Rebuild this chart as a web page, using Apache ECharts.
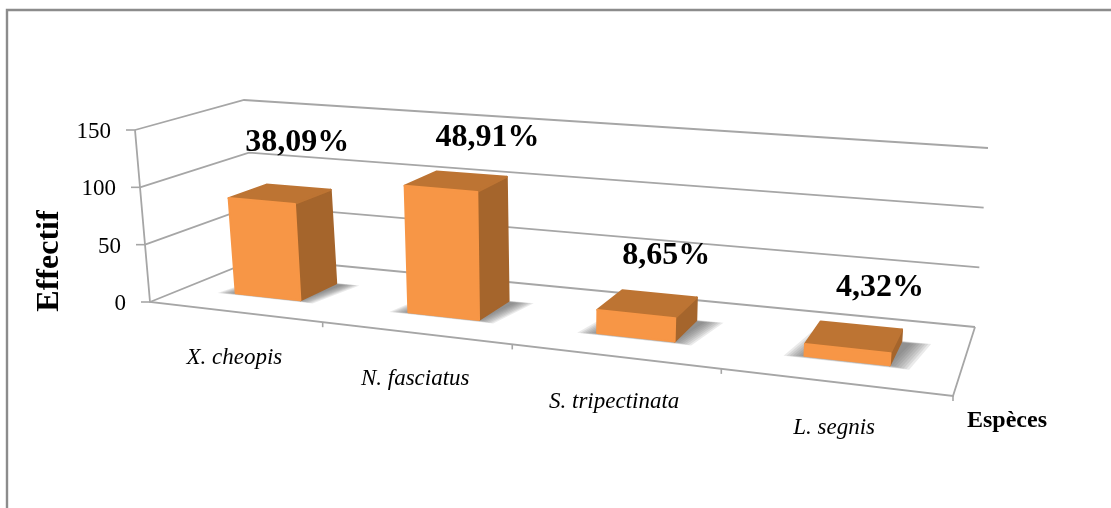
<!DOCTYPE html>
<html><head><meta charset="utf-8">
<style>html,body{margin:0;padding:0;background:#fff}#c{width:1111px;height:508px;filter:blur(.5px)}</style>
<script src="https://cdn.jsdelivr.net/npm/echarts@6/dist/echarts.min.js"></script>
</head><body><div id="c"></div>
<script>
const categories = ['X. cheopis','N. fasciatus','S. tripectinata','L. segnis'];
const counts = [88,113,20,10];
const percentLabels = ['38,09%','48,91%','8,65%','4,32%'];
const yTicks = [0,50,100,150];
const yAxisTitle = 'Effectif';
const xAxisTitle = 'Espèces';

// Layout of the perspective box (screen corners of the 3D plot cube)
const floorCorners = [[150,302],[953,396],[975,327],[259,258]];
const topCorners   = [[135,130],[967,200],[988,148],[244,100]];
const labelNudge = [[-1,-44],[16,-36],[7,-38],[19,-38]];
const barWidthFrac = 0.385, depth0 = 0.30, depth1 = 0.66, uWarp = 1.0725, barRise = 0.955;
const FONT = '"Liberation Serif","Times New Roman",serif';

function homography(q){ // unit square -> quad
  const [x0,y0]=q[0],[x1,y1]=q[1],[x2,y2]=q[2],[x3,y3]=q[3];
  const dx1=x1-x2,dx2=x3-x2,sx=x0-x1+x2-x3,dy1=y1-y2,dy2=y3-y2,sy=y0-y1+y2-y3;
  const den=dx1*dy2-dx2*dy1;
  const g=(sx*dy2-dx2*sy)/den,h=(dx1*sy-sx*dy1)/den;
  const a=x1-x0+g*x1,b=x3-x0+h*x3,d=y1-y0+g*y1,e=y3-y0+h*y3;
  return (u,v)=>{const w=g*u+h*v+1;return [(a*u+b*v+x0)/w,(d*u+e*v+y0)/w];};
}
const hFloor=homography(floorCorners);
const rise=floorCorners.map((f,i)=>[topCorners[i][0]-f[0],topCorners[i][1]-f[1]]);
function P(u0,d,t){
  const u=uWarp*u0/(1+(uWarp-1)*u0);
  const a=hFloor(u,d);
  const w=[(1-u)*(1-d),u*(1-d),u*d,(1-u)*d];
  let vx=0,vy=0; w.forEach((k,i)=>{vx+=k*rise[i][0];vy+=k*rise[i][1];});
  return [a[0]+vx*t,a[1]+vy*t];
}
const LINE='#a6a6a6';
function norm(api,params,cat,val){
  const c=api.coord([cat,val]),s=params.coordSys;
  return [(c[0]-s.x)/s.width,1-(c[1]-s.y)/s.height];
}
function line(pts,w,col){return {type:'polyline',shape:{points:pts},style:{stroke:col||LINE,lineWidth:w||1.6,fill:null}};}

function renderWall(params,api){
  const v=api.value(0);
  const t=norm(api,params,0,v)[1];
  const kids=[line([P(0,0,t),P(0,1,t),P(1,1,t)],1.8)];
  const a=P(0,0,t);
  kids.push(line([[a[0]-9,a[1]],a],1.6));
  kids.push({type:'text',style:{x:a[0]-24,y:a[1]+2,text:String(yTicks[params.dataIndex]),font:'23px '+FONT,fill:'#000',textAlign:'right',textVerticalAlign:'middle'}});
  return {type:'group',children:kids};
}
function renderFloor(params,api){
  const i=params.dataIndex;
  const band=api.size([1,0])[0]/params.coordSys.width;
  const c=norm(api,params,i,0)[0];
  const right=c+band/2, kids=[];
  const a=P(right,0,0);
  kids.push(line([a,[a[0],a[1]+5]],1.6));
  const m=P(c,0,0);
  kids.push({type:'text',style:{x:m[0],y:m[1]+46,text:categories[i],font:'italic 23px '+FONT,fill:'#000',textAlign:'center',textVerticalAlign:'middle'}});
  if(i===0){
    kids.push(line([P(0,0,1),P(0,0,0),P(1,0,0),P(1,1,0)],1.8));
  }
  return {type:'group',children:kids};
}
function poly(pts,fill){return {type:'polygon',shape:{points:pts},style:{fill:fill,stroke:fill,lineWidth:2,lineJoin:'round'}};}
function renderBar(params,api){
  const i=params.dataIndex;
  const n=norm(api,params,i,api.value(1));
  const band=api.size([1,0])[0]/params.coordSys.width;
  const u0=n[0]-band*barWidthFrac/2,u1=n[0]+band*barWidthFrac/2,t=n[1]*barRise;
  const kids=[];
  for(let k=7;k>=0;k--){
    const du=k*0.0032,dd=k*0.011;
    kids.push({type:'polygon',shape:{points:[P(u0-du,depth0-dd*.4,0),P(u1+du,depth0-dd*.4,0),P(u1+du+0.012,depth1-0.02+dd*.3,0),P(u0-du+0.012,depth1-0.02+dd*.3,0)]},
      style:{fill:'rgba(95,95,95,.13)'}});
  }
  kids.push(poly([P(u1,depth0,0),P(u1,depth1,0),P(u1,depth1,t),P(u1,depth0,t)],'#a5652c'));
  kids.push(poly([P(u0,depth0,t),P(u1,depth0,t),P(u1,depth1,t),P(u0,depth1,t)],'#bd7433'));
  kids.push(poly([P(u0,depth0,0),P(u1,depth0,0),P(u1,depth0,t),P(u0,depth0,t)],'#f79646'));
  const anchor=P(n[0],depth1,t);
  kids.push({type:'text',style:{x:anchor[0]+labelNudge[i][0],y:anchor[1]+labelNudge[i][1],text:percentLabels[i],font:'bold 32px '+FONT,fill:'#000',textAlign:'center',textVerticalAlign:'middle'}});
  return {type:'group',children:kids};
}
const chart=echarts.init(document.getElementById('c'),null,{renderer:'canvas'});
chart.setOption({
  animation:false,backgroundColor:'#fff',
  grid:{left:100,right:100,top:60,bottom:60,show:false},
  xAxis:{type:'category',data:categories,show:false},
  yAxis:{type:'value',min:0,max:150,interval:50,show:false},
  graphic:[
    {type:'polyline',shape:{points:[[7,508],[7,10],[1111,10]]},style:{stroke:'#8c8c8c',lineWidth:2.4,fill:null}},
    {type:'text',rotation:Math.PI/2,x:50,y:261,style:{text:yAxisTitle,font:'bold 32px '+FONT,fill:'#000',textAlign:'center',textVerticalAlign:'middle'}},
    {type:'text',x:1007,y:421,style:{text:xAxisTitle,font:'bold 24px '+FONT,fill:'#000',textAlign:'center',textVerticalAlign:'middle'}}
  ],
  series:[
    {type:'custom',coordinateSystem:'cartesian2d',data:yTicks.map(v=>[v]),encode:{y:0},renderItem:renderWall,z:1,silent:true},
    {type:'custom',coordinateSystem:'cartesian2d',data:categories.map((c,i)=>[i,0]),encode:{x:0,y:1},renderItem:renderFloor,z:2,silent:true},
    {type:'custom',coordinateSystem:'cartesian2d',data:counts.map((v,i)=>[i,v]),encode:{x:0,y:1},renderItem:renderBar,z:3,silent:true}
  ]
});
</script></body></html>
